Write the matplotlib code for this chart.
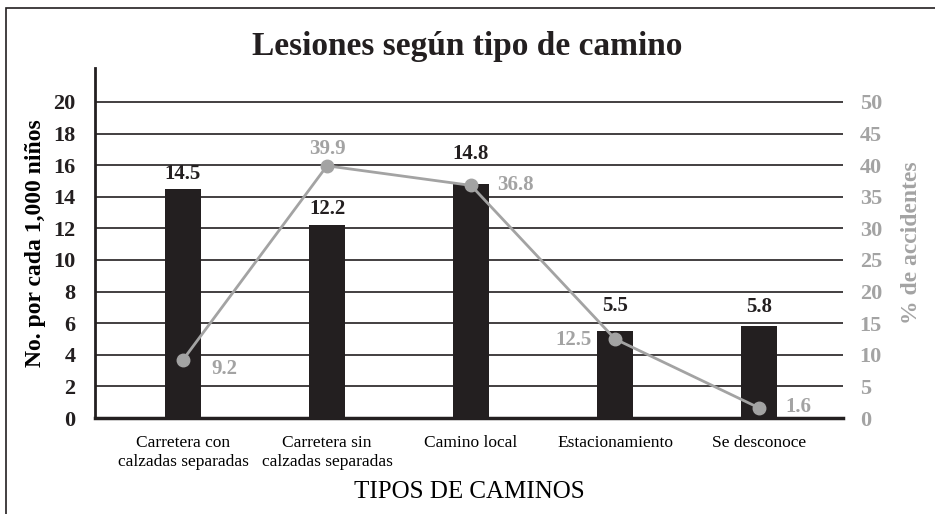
import numpy as np
import matplotlib.pyplot as plt
from matplotlib.patches import Rectangle

categorias = ['Carretera con\ncalzadas separadas', 'Carretera sin\ncalzadas separadas',
              'Camino local', 'Estacionamiento', 'Se desconoce']
lesiones = [14.5, 12.2, 14.8, 5.5, 5.8]
pct_accidentes = [9.2, 39.9, 36.8, 12.5, 1.6]
y_ticks_izq = np.arange(0, 21, 2)
y_ticks_der = np.arange(0, 51, 5)

gris = '#a3a3a3'
negro = '#231f20'
plt.rcParams['font.family'] = ['Liberation Serif', 'DejaVu Serif']

fig = plt.figure(figsize=(9.35, 5.14), dpi=100)
ax = fig.add_axes([95/935, (514-418)/514, (843-95)/935, (418-68)/514])
ax2 = ax.twinx()

x = np.arange(len(categorias))
ax.set_xlim(-0.611, 4.583)
ax.set_ylim(0, 22.15)
ax2.set_ylim(0, 22.15 * 2.5)

for yt in y_ticks_izq[1:]:
    ax.axhline(yt, color=negro, lw=1.2, zorder=0)

ax.bar(x, lesiones, width=0.245, color=negro, zorder=2)
# separación de cada etiqueta sobre su barra
sep_barras = [0.3, 0.38, 1.25, 0.95, 0.6]
for xi, v, d in zip(x, lesiones, sep_barras):
    ax.text(xi, v + d, f'{v}', ha='center', va='bottom', fontsize=15,
            fontweight='bold', color=negro)

ax2.plot(x, pct_accidentes, color=gris, lw=2, marker='o', markersize=9, zorder=3)
offsets = [(0.29, -1.4), (0.0, 2.7), (0.31, 0.1), (-0.29, -0.1), (0.27, 0.15)]
for xi, v, (dx, dy) in zip(x, pct_accidentes, offsets):
    ax2.text(xi + dx, v + dy, f'{v}', ha='center', va='center', fontsize=15,
             fontweight='bold', color=gris)

ax.set_yticks(y_ticks_izq)
ax.set_yticklabels([str(t) for t in y_ticks_izq], fontsize=16, fontweight='bold', color=negro)
ax2.set_yticks(y_ticks_der)
ax2.set_yticklabels([str(t) for t in y_ticks_der], fontsize=16, fontweight='bold', color=gris)
ax.tick_params(axis='y', length=0, pad=14)
ax2.tick_params(axis='y', length=0, pad=12)

ax.set_xticks(x)
ax.set_xticklabels(categorias, fontsize=12.5, linespacing=1.25)
ax.tick_params(axis='x', length=0, pad=12)

for a in (ax, ax2):
    for s in a.spines.values():
        s.set_visible(False)
ax.spines['left'].set_visible(True)
ax.spines['bottom'].set_visible(True)
ax.spines['left'].set_linewidth(2)
ax.spines['bottom'].set_linewidth(2.5)
ax.spines['left'].set_color(negro)
ax.spines['bottom'].set_color(negro)

ax.set_ylabel('No. por cada 1,000 niños', fontsize=17, fontweight='bold', labelpad=5)
ax2.set_ylabel('% de accidentes', fontsize=17, fontweight='bold', color=gris, labelpad=14)
ax.set_xlabel('TIPOS DE CAMINOS', fontsize=18, labelpad=8)

fig.text(467/935, 1 - 46/514, 'Lesiones según tipo de camino', ha='center', va='center',
         fontsize=24, fontweight='bold', color=negro)

fig.add_artist(Rectangle((6/935, -0.1), 1.2, 1 - 8/514 + 0.1, transform=fig.transFigure,
                         fill=False, edgecolor=negro, lw=1.2))

fig.savefig('out.png', dpi=100)
